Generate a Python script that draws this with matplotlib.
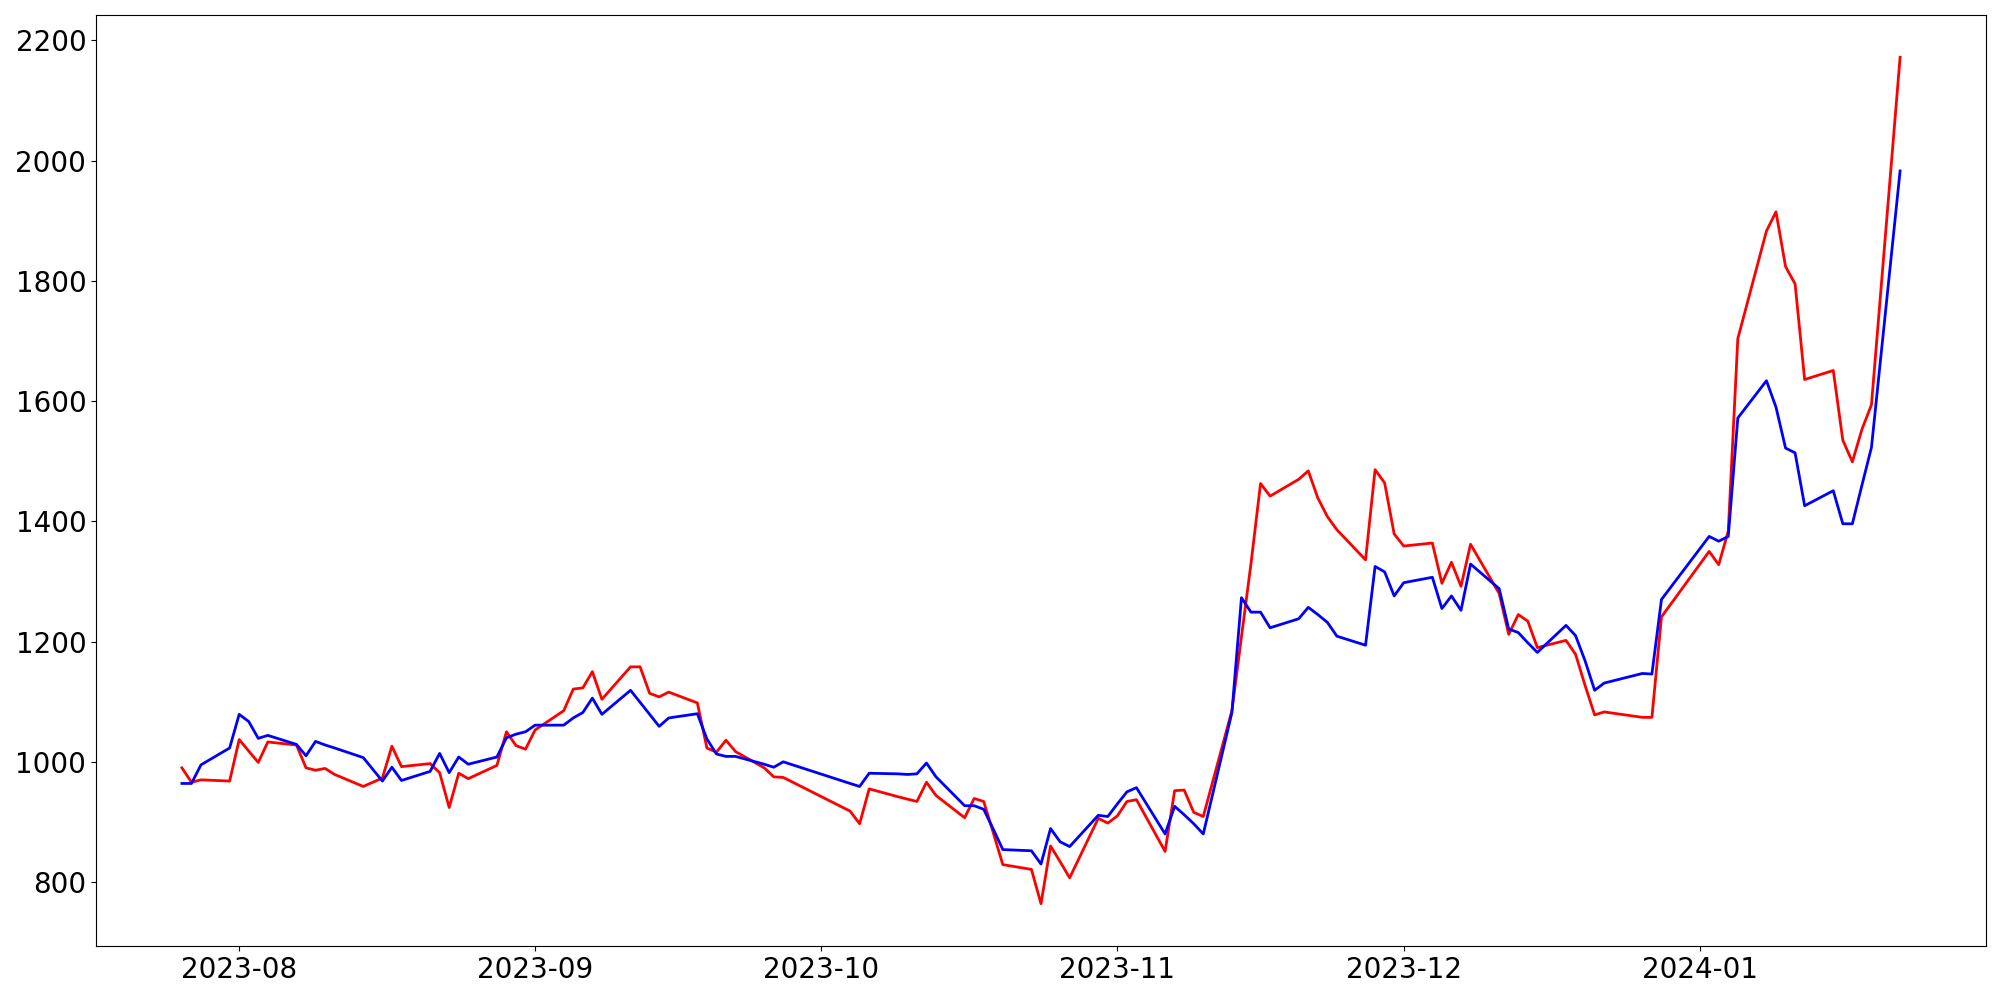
import matplotlib
matplotlib.use("Agg")
import matplotlib.pyplot as plt
import matplotlib.dates as mdates
import pandas as pd

# trading days shown in the chart
dates = [
    "2023-07-26", "2023-07-27", "2023-07-28", "2023-07-31",
    "2023-08-01", "2023-08-02", "2023-08-03", "2023-08-04", "2023-08-07", "2023-08-08",
    "2023-08-09", "2023-08-10", "2023-08-11", "2023-08-14", "2023-08-16", "2023-08-17",
    "2023-08-18", "2023-08-21", "2023-08-22", "2023-08-23", "2023-08-24", "2023-08-25",
    "2023-08-28", "2023-08-29", "2023-08-30", "2023-08-31",
    "2023-09-01", "2023-09-04", "2023-09-05", "2023-09-06", "2023-09-07", "2023-09-08",
    "2023-09-11", "2023-09-12", "2023-09-13", "2023-09-14", "2023-09-15", "2023-09-18",
    "2023-09-19", "2023-09-20", "2023-09-21", "2023-09-22", "2023-09-25", "2023-09-26",
    "2023-09-27",
    "2023-10-04", "2023-10-05", "2023-10-06", "2023-10-09", "2023-10-10", "2023-10-11",
    "2023-10-12", "2023-10-13", "2023-10-16", "2023-10-17", "2023-10-18", "2023-10-19",
    "2023-10-20", "2023-10-23", "2023-10-24", "2023-10-25", "2023-10-26", "2023-10-27",
    "2023-10-30", "2023-10-31",
    "2023-11-01", "2023-11-02", "2023-11-03", "2023-11-06", "2023-11-07", "2023-11-08",
    "2023-11-09", "2023-11-10", "2023-11-13", "2023-11-14", "2023-11-15", "2023-11-16",
    "2023-11-17", "2023-11-20", "2023-11-21", "2023-11-22", "2023-11-23", "2023-11-24",
    "2023-11-27", "2023-11-28", "2023-11-29", "2023-11-30",
    "2023-12-01", "2023-12-04", "2023-12-05", "2023-12-06", "2023-12-07", "2023-12-08",
    "2023-12-11", "2023-12-12", "2023-12-13", "2023-12-14", "2023-12-15", "2023-12-18",
    "2023-12-19", "2023-12-20", "2023-12-21", "2023-12-22", "2023-12-26", "2023-12-27",
    "2023-12-28",
    "2024-01-02", "2024-01-03", "2024-01-04", "2024-01-05", "2024-01-08", "2024-01-09",
    "2024-01-10", "2024-01-11", "2024-01-12", "2024-01-15", "2024-01-16", "2024-01-17",
    "2024-01-18", "2024-01-19", "2024-01-22",
]

red_values = [
    990, 966, 970, 968,
    1037, 1018, 999, 1033, 1028, 990, 986, 989, 979, 959, 973, 1026,
    992, 997, 982, 924, 981, 972, 994, 1050, 1027, 1021,
    1053, 1085, 1121, 1123, 1150, 1104, 1158, 1158, 1114, 1108, 1116, 1098,
    1023, 1016, 1036, 1017, 990, 975, 974,
    918, 897, 955, 942, 938, 934, 966, 944, 907, 939, 934, 882,
    829, 821, 764, 860, 834, 807, 906, 898,
    910, 934, 937, 851, 952, 953, 916, 909, 1085, 1208, 1330, 1463,
    1442, 1470, 1484, 1439, 1408, 1386, 1336, 1486, 1464, 1379,
    1359, 1364, 1297, 1332, 1292, 1362, 1280, 1212, 1245, 1234, 1190, 1202,
    1179, 1127, 1078, 1083, 1074, 1074, 1241,
    1350, 1328, 1384, 1704, 1883, 1915, 1824, 1795, 1636, 1651, 1535, 1499,
    1553, 1594, 2172,
]

blue_values = [
    964, 964, 995, 1023,
    1079, 1067, 1039, 1044, 1029, 1010, 1034, 1028, 1023, 1007, 968, 991,
    969, 984, 1014, 982, 1008, 996, 1008, 1040, 1046, 1050,
    1061, 1061, 1073, 1082, 1106, 1079, 1119, 1099, 1079, 1059, 1073, 1080,
    1038, 1013, 1009, 1009, 996, 991, 1000,
    964, 959, 981, 980, 979, 980, 998, 975, 927, 927, 921, 888,
    854, 852, 830, 889, 867, 859, 911, 909,
    930, 950, 957, 880, 926, 912, 897, 880, 1082, 1273, 1249, 1249,
    1223, 1238, 1257, 1245, 1232, 1209, 1194, 1325, 1316, 1276,
    1298, 1307, 1255, 1276, 1252, 1329, 1288, 1221, 1215, 1198, 1182, 1227,
    1210, 1168, 1119, 1131, 1147, 1146, 1270,
    1375, 1367, 1375, 1572, 1634, 1590, 1522, 1514, 1426, 1451, 1396, 1396,
    1460, 1523, 1983,
]

x = pd.to_datetime(dates)

fig, ax = plt.subplots(figsize=(20, 10), dpi=100)
ax.plot(x, red_values, color="red", linewidth=2)
ax.plot(x, blue_values, color="blue", linewidth=2)

ax.xaxis.set_major_locator(mdates.MonthLocator())
ax.xaxis.set_major_formatter(mdates.DateFormatter("%Y-%m"))
ax.tick_params(axis="both", labelsize=20)

fig.subplots_adjust(left=0.048, right=0.993, top=0.985, bottom=0.054)
fig.savefig("out.png")
